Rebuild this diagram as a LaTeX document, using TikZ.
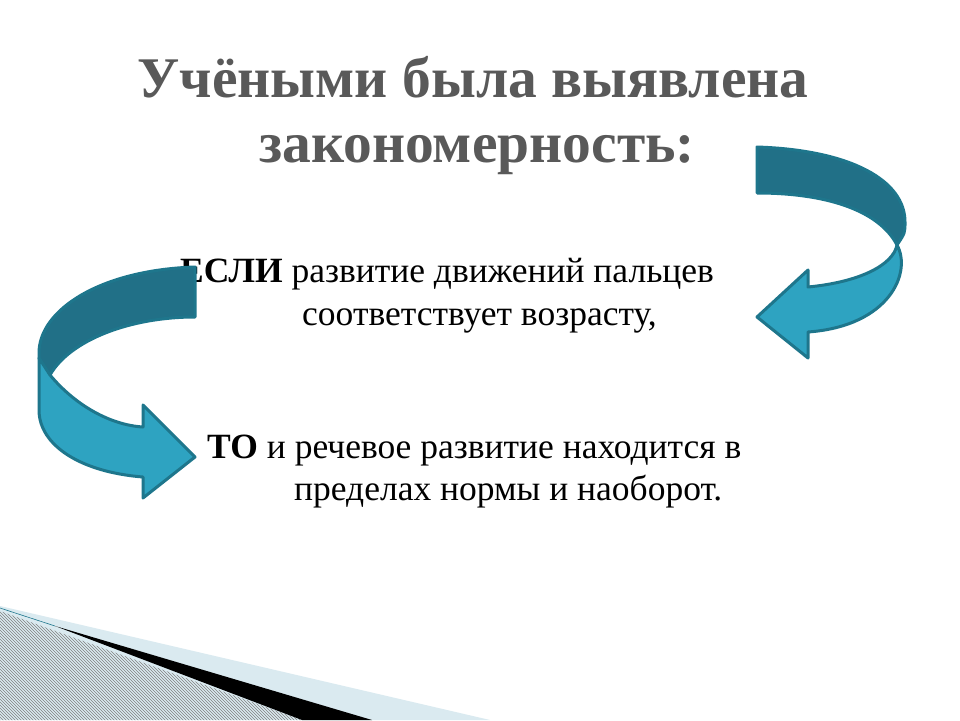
\documentclass[tikz,border=0pt]{standalone}
\usepackage{fontspec}
\setmainfont{Liberation Serif}
\usetikzlibrary{patterns}
\definecolor{titlegrey}{RGB}{89,89,89}
\definecolor{arrowdark}{RGB}{33,112,135}
\definecolor{arrowlight}{RGB}{46,163,193}
\definecolor{arrowline}{RGB}{30,118,140}
\definecolor{wedgeblue}{RGB}{218,234,240}
\tikzset{
  darkband/.style={fill=arrowdark, draw=arrowline, line width=3pt, line join=round},
  lightband/.style={fill=arrowlight, draw=arrowline, line width=3pt, line join=round},
  bodytext/.style={anchor=base west, inner sep=0pt, font=\fontsize{35.5}{40}\selectfont},
  titletext/.style={anchor=base, inner sep=0pt, text=titlegrey, font=\fontsize{57.5}{62}\selectfont\bfseries},
}
\begin{document}
\begin{tikzpicture}[x=1pt,y=-1pt]
\useasboundingbox (0,0) rectangle (960,720);
\fill[white] (0,0) rectangle (960,720);

% ---- bottom-left decoration ----
\fill[wedgeblue] (0,606) -- (490,720) -- (0,720) -- cycle;
\fill[pattern=north west lines, pattern color=gray] (0,611) -- (302,720) -- (0,720) -- cycle;
\fill[black] (55,626) -- (372,720) -- (302,720) -- cycle;
\draw[arrowline, line width=0.6pt] (0,608) -- (55,626);

% ---- title ----
\node[titletext] (title1) at (473,97) {Учёными была выявлена};
\node[titletext] (title2) at (477,162) {закономерность:};

% ---- body text ----
\node[bodytext] (if1) at (180,282) {\textbf{ЕСЛИ} развитие движений пальцев};
\node[bodytext] (if2) at (302,325) {соответствует возрасту,};
\node[bodytext] (then1) at (207,458) {\textbf{ТО} и речевое развитие находится в};
\node[bodytext] (then2) at (294,500) {пределах нормы и наоборот.};

% ---- right arrow ----
\path[darkband] (757,147) .. controls (850,150) and (905,180) .. (905,222)
  .. controls (905,233) .. (897,245) .. controls (880,212) and (830,193) .. (757,193) -- cycle;
\path[lightband] (897,245) .. controls (912,272) and (890,326) .. (808,332) -- (808,358) -- (757,317)
  -- (808,270) -- (808,287) .. controls (860,282) and (893,265) .. (897,245) -- cycle;

% ---- left arrow ----
\path[darkband] (195,267) .. controls (100,270) and (39,310) .. (39,353)
  .. controls (39,362) .. (50,375) .. controls (70,340) and (130,317) .. (195,317) -- cycle;
\path[lightband] (50,375) .. controls (75,405) and (110,425) .. (143,427) -- (143,405) -- (195,457)
  -- (143,498) -- (143,477) .. controls (80,472) and (39,445) .. (39,410) -- (39,358) -- cycle;
\end{tikzpicture}
\end{document}
